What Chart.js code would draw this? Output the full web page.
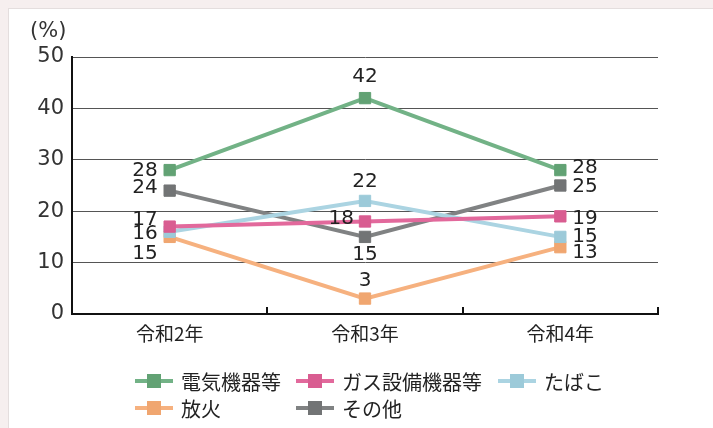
<!DOCTYPE html>
<html lang="ja">
<head>
<meta charset="utf-8">
<script src="https://cdn.jsdelivr.net/npm/chart.js@4"></script>
<style>
  html, body { margin: 0; padding: 0; }
  body { width: 713px; height: 428px; background: #f6efef; position: relative; overflow: hidden;
         font-family: 'Noto Sans CJK JP', 'Noto Sans', sans-serif; }
  #panel { position: absolute; left: 8px; top: 8px; width: 710px; height: 430px; background: #fff;
           border: 1px solid #e4dede; }
  #wrap { position: absolute; left: 0; top: 0; width: 713px; height: 428px; }
  #legend { position: absolute; left: 135px; top: 368px; display: grid;
            grid-template-columns: 161px 202px 120px; row-gap: 1px; color: #222; font-size: 20px; }
  .item { display: flex; align-items: center; height: 26px; white-space: nowrap; }
  .sym { position: relative; width: 38px; height: 14px; margin-right: 8px; }
  .sym .ln { position: absolute; left: 0; right: 0; top: 5px; height: 4px; }
  .sym .sq { position: absolute; left: 12px; top: 0; width: 14px; height: 14px; }
</style>
</head>
<body>
<div id="panel"></div>
<div id="wrap"><canvas id="chart" width="713" height="428"></canvas></div>
<div id="legend"></div>

<script>
  // ── Data ────────────────────────────────────────────────────────────────
  const YEARS    = ["令和2年", "令和3年", "令和4年"];
  const SERIES   = ["電気機器等", "ガス設備機器等", "たばこ", "放火", "その他"];
  const ELEC     = [28, 42, 28];
  const GAS      = [17, 18, 19];
  const TOBACCO  = [16, 22, 15];
  const ARSON    = [15, 3, 13];
  const OTHER    = [24, 15, 25];
  const Y_TICKS  = [0, 10, 20, 30, 40, 50];

  // ── Colours ─────────────────────────────────────────────────────────────
  const COLORS  = ["#72b286", "#e2699c", "#abd4e2", "#f6b17f", "#808283"];
  const MARKERS = ["#62a274", "#d95d91", "#9ccad9", "#f0a670", "#727475"];
  const INK     = "#222";

  // label placement per series, per year: [dx, dy, align]
  const LABEL_POS = [
    [[-12, 1, "right"], [0, -21, "center"], [12, -2, "left"]],
    [[-12, -7, "right"], [-11, -3, "right"], [12, 2, "left"]],
    [[-12, 2, "right"], [0, -19, "center"], [12, 0, "left"]],
    [[-12, 17, "right"], [0, -18, "center"], [12, 6, "left"]],
    [[-12, -3, "right"], [0, 18, "center"], [12, 1, "left"]],
  ];

  const FONT = "'Noto Sans CJK JP', 'Noto Sans', sans-serif";
  const NUM_FONT = "'DejaVu Sans', sans-serif";
  const values = [ELEC, GAS, TOBACCO, ARSON, OTHER];

  const labelPlugin = {
    id: "pointLabels",
    afterDatasetsDraw(chart) {
      const ctx = chart.ctx;
      ctx.save();
      ctx.font = "20px " + NUM_FONT;
      ctx.fillStyle = INK;
      ctx.textBaseline = "middle";
      chart.data.datasets.forEach((ds, di) => {
        chart.getDatasetMeta(di).data.forEach((pt, i) => {
          const [dx, dy, align] = LABEL_POS[di][i];
          ctx.textAlign = align;
          ctx.fillText(String(ds.data[i]), pt.x + dx, pt.y + dy);
        });
      });
      ctx.restore();
    },
  };

  // small upward ticks on the x axis at category boundaries, plus "(%)"
  const axisExtras = {
    id: "axisExtras",
    afterDraw(chart) {
      const ctx = chart.ctx;
      const area = chart.chartArea;
      const step = (area.right - area.left) / YEARS.length;
      ctx.save();
      ctx.strokeStyle = "#111";
      ctx.lineWidth = 2;
      for (let i = 1; i <= YEARS.length; i++) {
        const x = Math.round(area.left + step * i);
        ctx.beginPath();
        ctx.moveTo(x, area.bottom);
        ctx.lineTo(x, area.bottom - 7);
        ctx.stroke();
      }
      ctx.fillStyle = "#333";
      ctx.font = "21px " + NUM_FONT;
      ctx.textAlign = "left";
      ctx.textBaseline = "middle";
      ctx.fillText("(%)", 30, 32);
      ctx.restore();
    },
  };

  new Chart(document.getElementById("chart"), {
    type: "line",
    data: {
      labels: YEARS,
      datasets: SERIES.map((name, i) => ({
        label: name,
        data: values[i],
        borderColor: COLORS[i],
        backgroundColor: MARKERS[i],
        pointBorderColor: MARKERS[i],
        borderWidth: 4,
        pointStyle: "rect",
        pointRadius: 8,
        pointBorderWidth: 1,
        tension: 0,
        fill: false,
      })),
    },
    options: {
      responsive: false,
      animation: false,
      layout: { padding: { left: 0, top: 57, right: 55, bottom: 0 } },
      plugins: { legend: { display: false }, tooltip: { enabled: false } },
      scales: {
        x: {
          offset: true,
          grid: { display: false, drawTicks: false },
          border: { display: true, color: "#111", width: 2 },
          ticks: { color: INK, font: { family: FONT, size: 19 }, padding: 8 },
          afterFit: (s) => { s.height = 428 - 314; },
        },
        y: {
          min: 0,
          max: 50,
          afterBuildTicks: (s) => { s.ticks = Y_TICKS.map(v => ({ value: v })); },
          grid: { color: "#555", lineWidth: 1, drawTicks: false },
          border: { display: true, color: "#111", width: 2 },
          ticks: { color: "#333", font: { family: NUM_FONT, size: 21 }, padding: 8 },
          afterFit: (s) => { s.width = 72; },
        },
      },
    },
    plugins: [labelPlugin, axisExtras],
  });

  // ── Legend ──────────────────────────────────────────────────────────────
  const legend = document.getElementById("legend");
  SERIES.forEach((name, i) => {
    const item = document.createElement("div");
    item.className = "item";
    item.innerHTML =
      `<span class="sym"><span class="ln" style="background:${COLORS[i]}"></span>` +
      `<span class="sq" style="background:${MARKERS[i]}"></span></span>${name}`;
    legend.appendChild(item);
  });
</script>
</body>
</html>
